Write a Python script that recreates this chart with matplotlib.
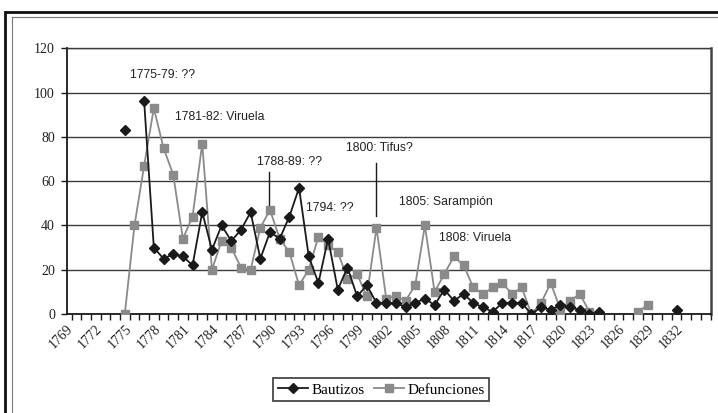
import numpy as np
import matplotlib.pyplot as plt
from matplotlib.lines import Line2D

nan = np.nan
years = list(range(1775, 1833))

# Bautizos (baptisms) per year, gaps where the series has no value
bautizos = [83, nan, 96, 30, 25, 27, 26, 22, 46, 29,
            40, 33, 38, 46, 25, 37, 34, 44, 57, 26,
            14, 34, 11, 21, 8, 13, 5, 5, 5, 3,
            5, 7, 4, 11, 6, 9, 5, 3, 1, 5,
            5, 5, 0, 3, 2, 4, 3, 2, 0, 1,
            nan, nan, nan, nan, nan, nan, nan, 2]

# Defunciones (deaths) per year
defunciones = [0, 40, 67, 93, 75, 63, 34, 44, 77, 20,
               33, 30, 21, 20, 39, 47, 34, 28, 13, 20,
               35, 31, 28, 16, 18, 8, 39, 7, 8, 6,
               13, 40, 10, 18, 26, 22, 12, 9, 12, 14,
               9, 12, 0, 5, 14, 2, 6, 9, 1, nan,
               nan, nan, nan, 1, 4, nan, nan, nan]

tick_years = list(range(1769, 1833, 3))

notes = [
    ("1775-79: ??", 1775.5, 107.8),
    ("1781-82: Viruela", 1780.2, 88.9),
    ("1788-89: ??", 1788.7, 68.6),
    ("1800: Tifus?", 1797.8, 75.0),
    ("1794: ??", 1793.7, 47.8),
    ("1805: Sarampión", 1803.3, 50.7),
    ("1808: Viruela", 1807.5, 34.4),
]
note_lines = [(1789.9, 64.0, 49.2), (1800.93, 68.2, 44.2)]

SERIF = "Liberation Serif"
SANS = "Liberation Sans"
GREY = "#8a8a8a"
DARK = "#1a1a1a"
GRID = "#3c3c3c"

fig = plt.figure(figsize=(7.18, 4.13), dpi=100)
ax = fig.add_axes([66.7 / 718, 1 - 314 / 413, (710.5 - 66.7) / 718, (314 - 48.3) / 413])

ax.plot(years, defunciones, color=GREY, lw=1.3, marker="s", ms=6,
        mfc=GREY, mec=GREY, zorder=3)
ax.plot(years, bautizos, color=DARK, lw=1.3, marker="D", ms=4.8,
        mfc=DARK, mec=DARK, zorder=4)

ax.set_xlim(1769.5, 1835.5)
ax.set_ylim(0, 120)
ax.set_yticks(range(0, 121, 20))
ax.yaxis.grid(True, color=GRID, lw=1.0)
ax.set_axisbelow(True)

ax.set_xticks(tick_years)
ax.set_xticklabels([str(y) for y in tick_years], rotation=45, ha="right",
                   rotation_mode="anchor", fontfamily=SERIF, fontsize=10,
                   color="#222222")
ax.set_xticks(np.arange(1769.5, 1836, 1.0), minor=True)
ax.tick_params(axis="x", which="major", length=0, pad=6)
ax.tick_params(axis="x", which="minor", length=4, width=1.0, color=DARK,
               direction="out")
ax.tick_params(axis="y", length=4.5, width=1.0, color=DARK, pad=4,
               labelsize=10)
for lbl in ax.get_yticklabels():
    lbl.set_fontfamily(SERIF)
    lbl.set_color("#222222")

ax.spines["left"].set_color(DARK)
ax.spines["left"].set_linewidth(1.3)
ax.spines["bottom"].set_color(DARK)
ax.spines["bottom"].set_linewidth(1.3)
ax.spines["right"].set_color("#444444")
ax.spines["right"].set_linewidth(1.8)
ax.spines["top"].set_color(GRID)
ax.spines["top"].set_linewidth(1.0)

for text, x, y in notes:
    ax.text(x, y, text, ha="left", va="center", fontsize=8.8,
            fontfamily=SANS, color="#222222")
for x, y0, y1 in note_lines:
    ax.plot([x, x], [y0, y1], color=DARK, lw=1.0, zorder=2)

handles = [
    Line2D([], [], color=DARK, lw=1.3, marker="D", ms=4.8, mfc=DARK, mec=DARK),
    Line2D([], [], color=GREY, lw=1.3, marker="s", ms=6, mfc=GREY, mec=GREY),
]
leg = fig.legend(handles, ["Bautizos", "Defunciones"], loc="center",
                 bbox_to_anchor=(0.531, 0.056), ncol=2, frameon=True,
                 fancybox=False, edgecolor=DARK, handlelength=2.0,
                 handletextpad=0.2, columnspacing=0.6, borderpad=0.3,
                 prop={"family": SERIF, "size": 11})
leg.get_frame().set_linewidth(1.3)

# page frame: thick outer line and thin inner line
W, H = 718, 413
fig.add_artist(Line2D([7 / W, 1], [1 - 12 / H] * 2, color="#111111", lw=2.0))
fig.add_artist(Line2D([5 / W] * 2, [0, 1 - 12 / H], color="#111111", lw=2.0))
fig.add_artist(Line2D([12 / W, 1], [1 - 17 / H] * 2, color="#777777", lw=0.8))
fig.add_artist(Line2D([11.5 / W] * 2, [0, 1 - 17 / H], color="#777777", lw=0.8))

fig.savefig("out.png", dpi=100)
